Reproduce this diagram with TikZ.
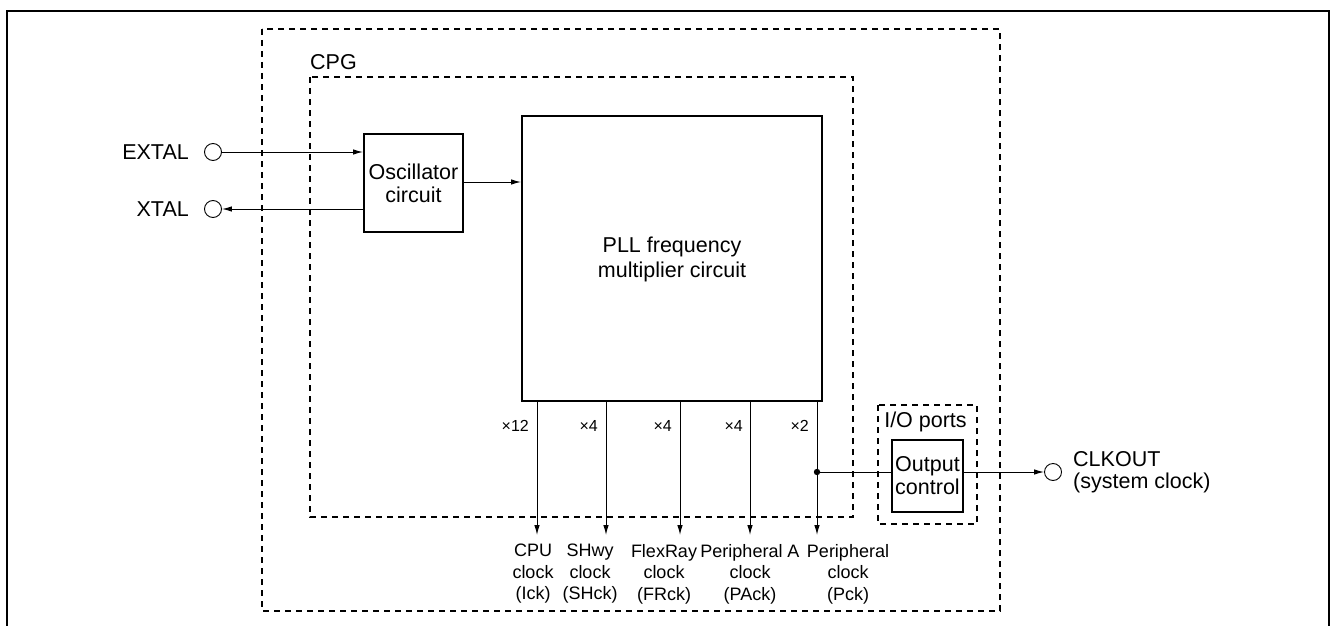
\documentclass[tikz,border=0pt]{standalone}
\usepackage{fontspec}
\setmainfont{Liberation Sans}
\usetikzlibrary{arrows.meta}
\begin{document}
\begin{tikzpicture}[x=1pt,y=-1pt,
  box/.style={draw,line width=2pt,inner sep=0pt,align=center,font=\fontsize{21.5}{23}\selectfont},
  dbox/.style={draw,line width=2.3pt,dash pattern=on 6pt off 5pt},
  pin/.style={draw,circle,line width=0.9pt,minimum size=17pt,inner sep=0pt},
  sig/.style={line width=1pt,-{Latex[length=10pt,width=5.5pt]}},
  wire/.style={line width=1pt},
  lbl/.style={font=\fontsize{21.5}{23}\selectfont,inner sep=0pt},
  mul/.style={font=\fontsize{16}{18}\selectfont,inner sep=0pt,anchor=east},
  clk/.style={font=\fontsize{18}{21.5}\selectfont,align=center,inner sep=0pt,anchor=north}]
\useasboundingbox (0,0) rectangle (1330,626);
% outer frame (open at bottom)
\draw[line width=2pt] (7,640) -- (7,11) -- (1329,11) -- (1329,640);
% dashed regions
\draw[dbox] (262,29) rectangle (1000,611);
\draw[dbox] (310,77) rectangle (853,517);
\draw[dbox] (878,405) rectangle (977,524);
\node[lbl,anchor=west] (cpg) at (310,62) {CPG};
\node[lbl] (io) at (925.5,422) {I/O ports};
% blocks
\node[box,minimum width=99pt,minimum height=98pt] (osc) at (413.5,183) {Oscillator\\circuit};
\node[box,minimum width=300pt,minimum height=285pt] (pll) at (672,258.5) {};
\node[font=\fontsize{21.5}{25}\selectfont,align=center] (plltxt) at (672,259.5) {PLL frequency\\multiplier circuit};
\node[box,minimum width=71pt,minimum height=72pt] (outc) at (927.5,476) {Output\\control};
% pins
\node[pin] (extal) at (213,152) {};
\node[pin] (xtal) at (213,209) {};
\node[pin] (clkout) at (1053,472) {};
\node[lbl,anchor=east] (extall) at (189,152) {EXTAL};
\node[lbl,anchor=east] (xtall) at (189,209) {XTAL};
\node[lbl,anchor=west,align=left,font=\fontsize{21.5}{22}\selectfont] (clkl) at (1073,472) {CLKOUT\\(system clock)};
% oscillator connections
\draw[sig] (extal) -- (osc.west |- extal);
\draw[sig] (osc.west |- xtal) -- (xtal);
\draw[sig] (osc.east |- 0,182) -- (pll.west |- 0,182);
% clock outputs
\coordinate (e1) at (537,535);
\coordinate (e2) at (606,535);
\coordinate (e3) at (680,535);
\coordinate (e4) at (750,535);
\coordinate (e5) at (817,535);
\foreach \i in {1,...,5} \draw[sig] (pll.south -| e\i) -- (e\i);
\node[mul] (m1) at (529,426) {×12};
\node[mul] (m2) at (598,426) {×4};
\node[mul] (m3) at (672,426) {×4};
\node[mul] (m4) at (743,426) {×4};
\node[mul] (m5) at (809,426) {×2};
\node[clk] (c1) at (533,544) {CPU\\clock\\(Ick)};
\node[clk] (c2) at (590,544) {SHwy\\clock\\(SHck)};
\node[clk] (c3) at (664,544) {FlexRay\\clock\\(FRck)};
\node[clk] (c4) at (750,544) {Peripheral A\\clock\\(PAck)};
\node[clk] (c5) at (848,544) {Peripheral\\clock\\(Pck)};
% CLKOUT path
\coordinate (j) at (817,472);
\fill (j) circle (3.2pt);
\draw[wire] (j) -- (j -| outc.west);
\draw[sig] (outc.east |- clkout) -- (clkout);
\end{tikzpicture}
\end{document}
